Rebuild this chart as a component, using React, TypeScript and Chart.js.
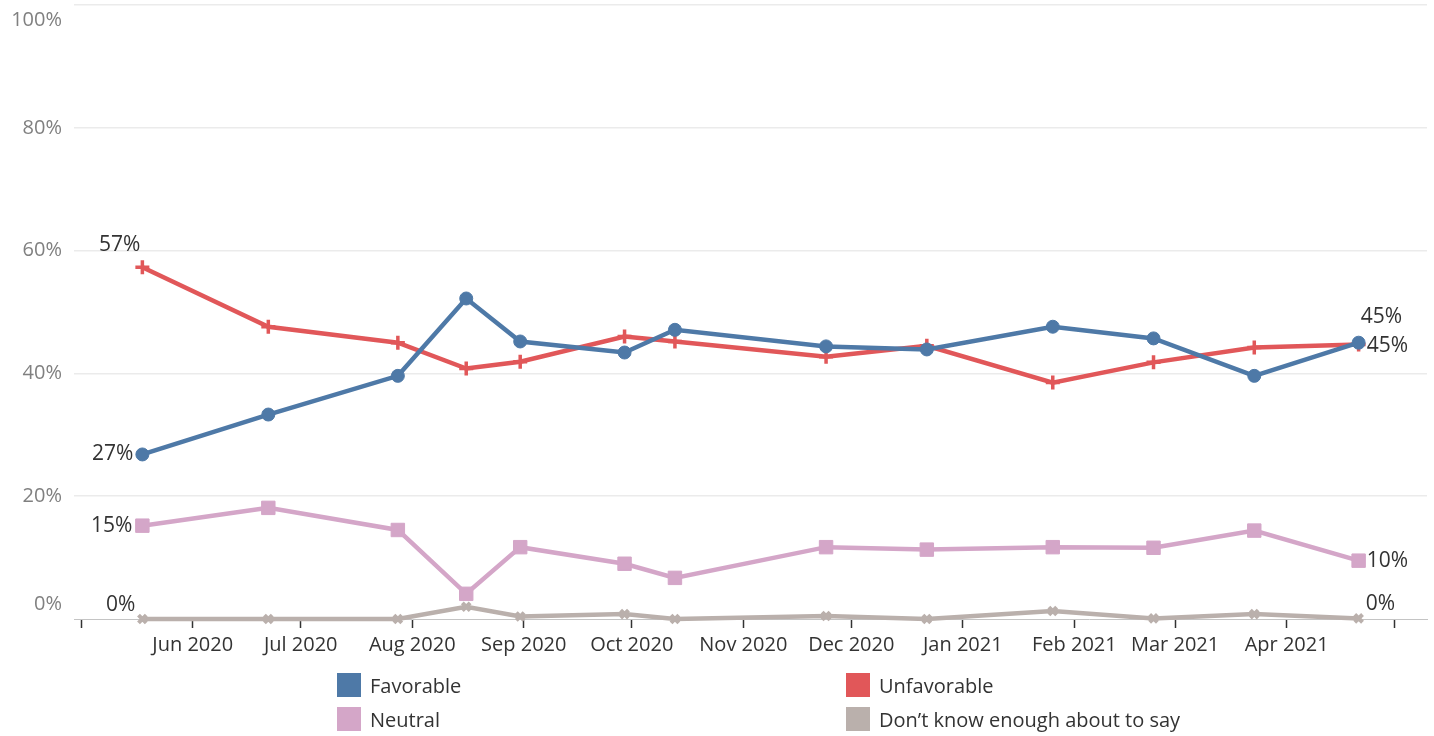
import React, { useEffect, useRef } from 'react';
import { Chart, registerables } from 'chart.js';

Chart.register(...registerables);

// ---- data ----
const surveyDates = [
  '2020-05-18', '2020-06-22', '2020-07-28', '2020-08-16', '2020-08-31', '2020-09-29', '2020-10-13',
  '2020-11-24', '2020-12-22', '2021-01-26', '2021-02-23', '2021-03-23', '2021-04-21',
];
const favorable = [26.8, 33.3, 39.6, 52.2, 45.2, 43.4, 47.1, 44.4, 43.9, 47.6, 45.7, 39.6, 45.0];
const unfavorable = [57.3, 47.6, 45.0, 40.8, 41.9, 46.0, 45.2, 42.7, 44.5, 38.5, 41.8, 44.2, 44.7];
const neutral = [15.2, 18.1, 14.5, 4.1, 11.7, 9.0, 6.7, 11.7, 11.3, 11.7, 11.6, 14.4, 9.5];
const dontKnow = [0.0, 0.0, 0.0, 2.0, 0.4, 0.8, 0.0, 0.5, 0.0, 1.3, 0.1, 0.8, 0.1];

const seriesNames = ['Favorable', 'Unfavorable', 'Neutral', 'Don\u2019t know enough about to say'];
const seriesColors = ['#4e79a7', '#e15759', '#d4a6c8', '#bab0ac'];

const monthTicks = [
  '2020-05-01', '2020-06-01', '2020-07-01', '2020-08-01', '2020-09-01', '2020-10-01', '2020-11-01',
  '2020-12-01', '2021-01-01', '2021-02-01', '2021-03-01', '2021-04-01', '2021-05-01',
];
const monthLabels = [
  '', 'Jun 2020', 'Jul 2020', 'Aug 2020', 'Sep 2020', 'Oct 2020', 'Nov 2020',
  'Dec 2020', 'Jan 2021', 'Feb 2021', 'Mar 2021', 'Apr 2021', '',
];
const yTicks = [0, 20, 40, 60, 80, 100];
const axisStart = '2020-04-29';
const axisEnd = '2021-05-10';

const FONT = '"Open Sans", "DejaVu Sans", sans-serif';

const toDay = (s: string) => {
  const [y, m, d] = s.split('-').map(Number);
  return Date.UTC(y, m - 1, d) / 86400000;
};

const endLabelsPlugin = {
  id: 'endLabels',
  afterDatasetsDraw(chart: any, _args: any, opts: any) {
    const ctx = chart.ctx;
    ctx.save();
    ctx.font = `21px ${FONT}`;
    ctx.fillStyle = '#333333';
    ctx.textBaseline = 'middle';
    (opts.items || []).forEach((it: any) => {
      const meta = chart.getDatasetMeta(it.ds);
      const idx = it.end ? meta.data.length - 1 : 0;
      const pt = meta.data[idx];
      const v = chart.data.datasets[it.ds].data[idx].y;
      ctx.textAlign = it.end ? 'left' : 'right';
      ctx.fillText(Math.round(v) + '%', pt.x + it.dx, pt.y + it.dy);
    });
    ctx.restore();
  },
};

export default function App() {
  const canvasRef = useRef<HTMLCanvasElement | null>(null);

  useEffect(() => {
    if (!canvasRef.current) return;
    const xs = surveyDates.map(toDay);
    const mk = (vals: number[]) => vals.map((v, i) => ({ x: xs[i], y: v }));
    const seriesVals = [favorable, unfavorable, neutral, dontKnow];
    const pointStyles = ['circle', 'cross', 'rect', 'crossRot'];
    const radii = [6.5, 7, 9.5, 5.5];
    const pBorder = [1, 3.5, 1, 4];

    const chart = new Chart(canvasRef.current, {
      type: 'line',
      data: {
        datasets: seriesVals.map((vals, k) => ({
          label: seriesNames[k],
          data: mk(vals),
          borderColor: seriesColors[k],
          backgroundColor: seriesColors[k],
          pointBackgroundColor: seriesColors[k],
          pointBorderColor: seriesColors[k],
          borderWidth: 4.5,
          pointStyle: pointStyles[k] as any,
          pointRadius: radii[k],
          pointBorderWidth: pBorder[k],
          tension: 0,
          clip: false as any,
        })),
      },
      options: {
        animation: false,
        responsive: true,
        maintainAspectRatio: false,
        layout: { autoPadding: false, padding: { top: 5, right: 7, left: 0, bottom: 0 } },
        plugins: {
          legend: { display: false },
          tooltip: { enabled: false },
          endLabels: {
            items: [
              { ds: 0, end: false, dx: -9, dy: 0 },
              { ds: 1, end: false, dx: -2, dy: -22 },
              { ds: 2, end: false, dx: -10, dy: 0 },
              { ds: 3, end: false, dx: -7, dy: -14 },
              { ds: 0, end: true, dx: 2, dy: -26 },
              { ds: 1, end: true, dx: 8, dy: 1 },
              { ds: 2, end: true, dx: 8, dy: 0 },
              { ds: 3, end: true, dx: 7, dy: -14 },
            ],
          },
        } as any,
        scales: {
          x: {
            type: 'linear',
            min: toDay(axisStart),
            max: toDay(axisEnd),
            afterFit: (s: any) => {
              s.height = 117;
              s.paddingLeft = 0;
              s.paddingRight = 0;
            },
            afterBuildTicks: (s: any) => { s.ticks = monthTicks.map((d) => ({ value: toDay(d) })); },
            border: { display: true, color: '#c4c4c4', dash: [3, 3], width: 1 },
            grid: {
              display: true,
              drawOnChartArea: false,
              drawTicks: true,
              tickLength: 9,
              tickColor: '#333333',
              tickWidth: 1.5,
            },
            ticks: {
              autoSkip: false,
              maxRotation: 0,
              minRotation: 0,
              padding: 5,
              color: '#333333',
              font: { family: FONT, size: 20 },
              callback: (_v: any, i: number) => monthLabels[i],
            },
          },
          y: {
            type: 'linear',
            min: 0,
            max: 100,
            afterFit: (s: any) => {
              s.width = 74;
              s.paddingTop = 0;
              s.paddingBottom = 0;
            },
            afterBuildTicks: (s: any) => { s.ticks = yTicks.map((v) => ({ value: v })); },
            border: { display: false },
            grid: {
              drawTicks: false,
              color: (c: any) => (c.tick && c.tick.value === 0 ? 'rgba(0,0,0,0)' : '#ebebeb'),
              lineWidth: 1.5,
            },
            ticks: {
              padding: 12,
              color: '#808080',
              font: (c: any) => ({
                family: FONT,
                size: 20,
                lineHeight: c.tick && (c.tick.value === 0 || c.tick.value === 100) ? '30px' : 1.2,
              }),
              callback: (v: any) => {
                if (v === 100) return ['', '100%'];
                if (v === 0) return ['0%', ''];
                return v + '%';
              },
            },
          },
        },
      },
      plugins: [endLabelsPlugin],
    } as any);
    return () => chart.destroy();
  }, []);

  const legendPos = [
    { left: 337, top: 673 },
    { left: 846, top: 673 },
    { left: 337, top: 707 },
    { left: 846, top: 707 },
  ];

  return (
    <div style={{ position: 'fixed', left: 0, top: 0, width: 1434, height: 736, background: '#ffffff', overflow: 'hidden' }}>
      <div style={{ position: 'absolute', left: 0, top: 0, width: 1434, height: 736 }}>
        <canvas ref={canvasRef} />
      </div>
      {seriesNames.map((name, k) => (
        <div
          key={name}
          style={{
            position: 'absolute',
            left: legendPos[k].left,
            top: legendPos[k].top,
            height: 24,
            display: 'flex',
            alignItems: 'center',
            fontFamily: FONT,
            fontSize: 20,
            color: '#333333',
            whiteSpace: 'nowrap',
          }}
        >
          <span style={{ display: 'inline-block', width: 24, height: 24, background: seriesColors[k], marginRight: 9 }} />
          <span>{name}</span>
        </div>
      ))}
    </div>
  );
}
